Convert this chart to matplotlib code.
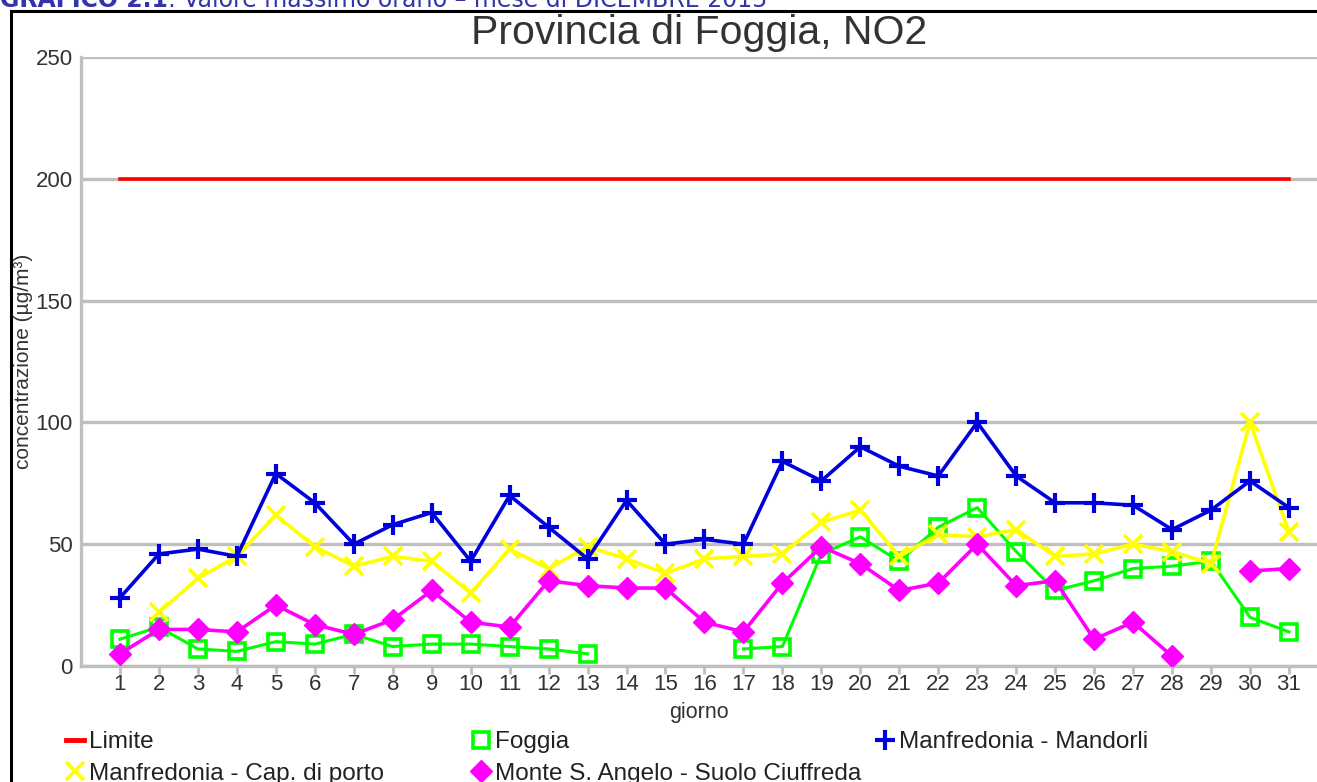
import numpy as np
import matplotlib
matplotlib.use("Agg")
import matplotlib.pyplot as plt
from matplotlib.lines import Line2D

plt.rcParams['font.family'] = ['Liberation Sans', 'DejaVu Sans']

days = list(range(1, 32))
limite = [200] * 31
foggia = [11, 16, 7, 6, 10, 9, 13, 8, 9, 9, 8, 7, 5, None, None, None, 7, 8,
          46, 53, 43, 57, 65, 47, 31, 35, 40, 41, 43, 20, 14]
mandorli = [28, 46, 48, 45, 79, 67, 50, 58, 63, 43, 70, 57, 44, 68, 50, 52, 50,
            84, 76, 90, 82, 78, 100, 78, 67, 67, 66, 56, 64, 76, 65]
cap_porto = [None, 22, 36, 45, 62, 49, 41, 45, 43, 30, 48, 40, 49, 44, 38, 44, 45,
             46, 59, 64, 45, 54, 53, 56, 45, 46, 50, 47, 42, 100, 55]
monte = [5, 15, 15, 14, 25, 17, 13, 19, 31, 18, 16, 35, 33, 32, 32, 18, 14, 34,
         49, 42, 31, 34, 50, 33, 35, 11, 18, 4, None, 39, 40]

def arr(v):
    return np.array([np.nan if x is None else x for x in v], dtype=float)

fig = plt.figure(figsize=(13.17, 7.82), dpi=100)
ax = fig.add_axes([81/1317, 1-666/782, 1-81/1317, (666-57)/782])

grid_c = '#bfbfbf'
txt_c = '#333333'
ax.plot(days, limite, color='#ff0000', lw=2.6, zorder=3)
ax.plot(days, arr(foggia), color='#00ff00', lw=2.2, marker='s', ms=12,
        mfc='none', mec='#00ff00', mew=2.6, zorder=4)
ax.plot(days, arr(mandorli), color='#0000dd', lw=2.6, marker='+', ms=15,
        mew=3, zorder=5)
ax.plot(days, arr(cap_porto), color='#ffff00', lw=2.6, marker='x', ms=13,
        mew=2.6, zorder=4)
ax.plot(days, arr(monte), color='#ff00ff', lw=2.6, marker='D', ms=11,
        mec='#ff00ff', zorder=4)

ax.set_xlim(0, 31.72)
ax.set_ylim(0, 250)
ax.set_yticks([0, 50, 100, 150, 200, 250])
ax.set_xticks(days)
ax.yaxis.grid(True, color=grid_c, lw=2.4)
ax.set_axisbelow(True)
for s in ['top', 'right']:
    ax.spines[s].set_visible(False)
for s in ['left', 'bottom']:
    ax.spines[s].set_color(grid_c)
    ax.spines[s].set_linewidth(2.4)
ax.tick_params(axis='x', colors=grid_c, length=6, width=2, labelcolor=txt_c,
               labelsize=16, pad=0)
ax.tick_params(axis='y', length=0, labelcolor=txt_c, labelsize=16, pad=6)
ax.set_xlabel('giorno', fontsize=15.5, color=txt_c, labelpad=5)
ax.set_ylabel('concentrazione (µg/m³)', fontsize=15, color=txt_c)
ax.yaxis.set_label_coords(-48/1236, 0.5)
ax.set_title('Provincia di Foggia, NO2', fontsize=29.5, color=txt_c, pad=9)

# outer frame
fig.add_artist(Line2D([11/1317, 11/1317], [0, 1-11/782], color='black', lw=2.2,
                      transform=fig.transFigure))
fig.add_artist(Line2D([11/1317, 1], [1-11/782, 1-11/782], color='black', lw=2.2,
                      transform=fig.transFigure))

# header, cut off at top like the source page
hc = '#3333aa'
t1 = fig.text(0.0, 1.0, 'GRAFICO 2.1', fontsize=17, fontweight='bold', color=hc,
              family='DejaVu Sans', va='center', ha='left')
fig.canvas.draw()
bb = t1.get_window_extent()
fig.text(bb.x1 / fig.bbox.width, 1.0, ': Valore massimo orario – mese di DICEMBRE 2015',
         fontsize=17, color=hc, family='DejaVu Sans', va='center', ha='left')

# legend
h_lim = Line2D([], [], color='#ff0000', lw=3.5)
h_fog = Line2D([], [], ls='none', marker='s', ms=12, mfc='none', mec='#00ff00', mew=2.6)
h_man = Line2D([], [], ls='none', marker='+', ms=15, mew=3, color='#0000dd')
h_cap = Line2D([], [], ls='none', marker='x', ms=13, mew=2.6, color='#ffff00')
h_mon = Line2D([], [], ls='none', marker='D', ms=11, color='#ff00ff')
kw = dict(frameon=False, fontsize=17.5, handlelength=0.75, handletextpad=0.2,
          labelspacing=0.4, borderpad=0, borderaxespad=0, labelcolor='#222222')
top = 1 - 731/782
fig.legend([h_lim, h_cap], ['Limite', 'Manfredonia - Cap. di porto'],
           loc='upper left', bbox_to_anchor=(66/1317, top), **kw)
fig.legend([h_fog, h_mon], ['Foggia', 'Monte S. Angelo - Suolo Ciuffreda'],
           loc='upper left', bbox_to_anchor=(472/1317, top), **kw)
fig.legend([h_man], ['Manfredonia - Mandorli'],
           loc='upper left', bbox_to_anchor=(876/1317, top), **kw)

fig.savefig('out.png', dpi=100)
